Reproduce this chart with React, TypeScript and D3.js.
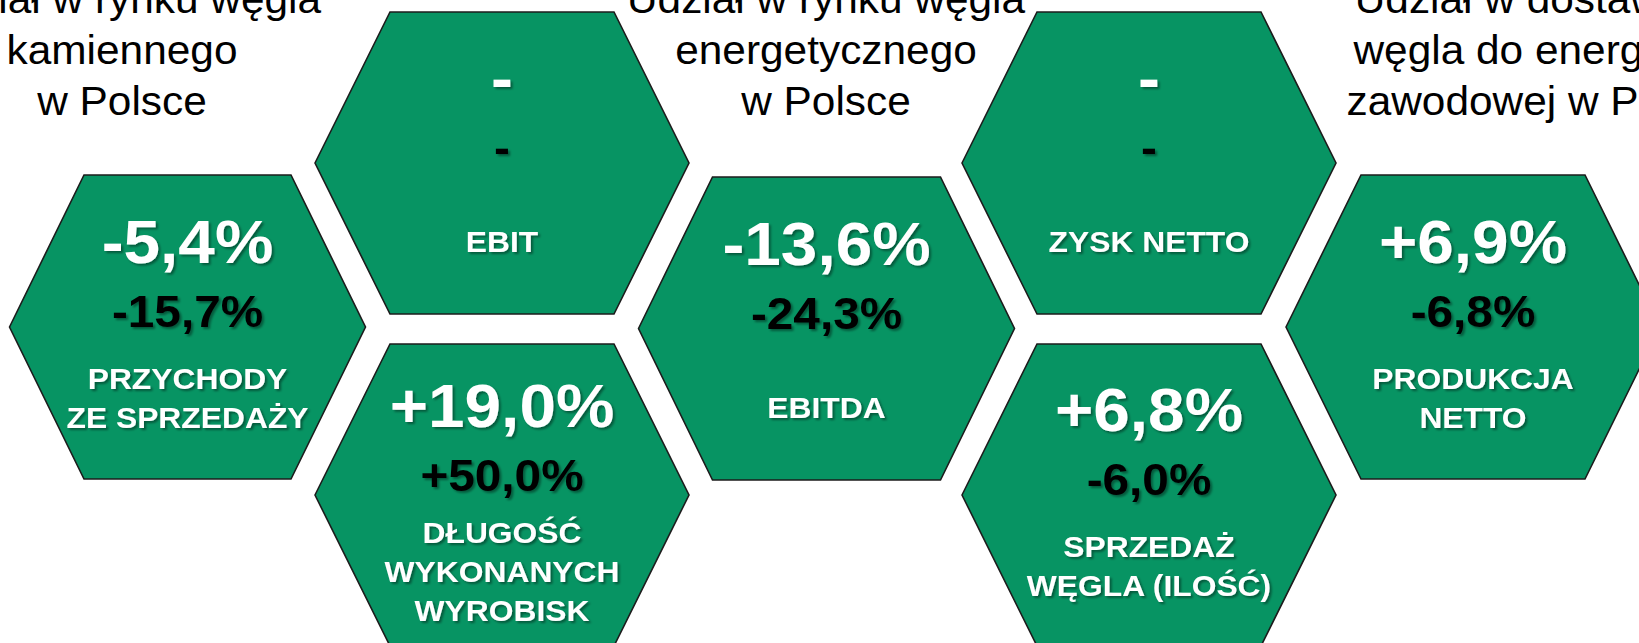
import React from "react";
import * as d3 from "d3";

// data
const labels: string[][] = [
  ["PRZYCHODY", "ZE SPRZEDAŻY"],
  ["EBIT"],
  ["DŁUGOŚĆ", "WYKONANYCH", "WYROBISK"],
  ["EBITDA"],
  ["ZYSK NETTO"],
  ["SPRZEDAŻ", "WĘGLA (ILOŚĆ)"],
  ["PRODUKCJA", "NETTO"],
];
const mainValues = ["-5,4%", "-", "+19,0%", "-13,6%", "-", "+6,8%", "+6,9%"];
const subValues = ["-15,7%", "-", "+50,0%", "-24,3%", "-", "-6,0%", "-6,8%"];

const titles: string[][] = [
  ["Udział w rynku węgla", "kamiennego", "w Polsce"],
  ["Udział w rynku węgla", "energetycznego", "w Polsce"],
  ["Udział w dostawach", "węgla do energetyki", "zawodowej w Polsce"],
];

// layout (not data): hex centres and half sizes
const hexLayout = [
  { cx: 187.5, cy: 327, w: 178, t: 103.5, h: 152 },
  { cx: 502, cy: 163, w: 187, t: 112, h: 151 },
  { cx: 502, cy: 495, w: 187, t: 112, h: 151 },
  { cx: 826.5, cy: 328.5, w: 188, t: 114, h: 151.5 },
  { cx: 1149, cy: 163, w: 187, t: 112, h: 151 },
  { cx: 1149, cy: 495, w: 187, t: 112, h: 151 },
  { cx: 1473, cy: 327, w: 187, t: 112, h: 152 },
];
const titleX = [122, 826, 1542];

const WIDTH = 1639;
const HEIGHT = 643;
const GREEN = "#079463";
const FONT = "'Liberation Sans', Arial, sans-serif";
const SX = 1.06; // text in the source is a bit wider than tall

const hexPath = d3.line<[number, number]>().curve(d3.curveLinearClosed);

function hexPoints(l: { cx: number; cy: number; w: number; t: number; h: number }): [number, number][] {
  return [
    [l.cx - l.w, l.cy],
    [l.cx - l.t, l.cy - l.h],
    [l.cx + l.t, l.cy - l.h],
    [l.cx + l.w, l.cy],
    [l.cx + l.t, l.cy + l.h],
    [l.cx - l.t, l.cy + l.h],
  ];
}

// vertical offsets from the hex centre, depending on label line count
function offsets(n: number) {
  if (n === 1) return { big: -64, sub: 0, label: 89, step: 0 };
  if (n === 2) return { big: -64, sub: 0, label: 62, step: 38.5 };
  return { big: -68, sub: -4, label: 48, step: 39 };
}

function Txt({ x, y, size, fill, weight, children, shadow }: any) {
  return (
    <text
      transform={`translate(${x},${y}) scale(${SX},1)`}
      textAnchor="middle"
      fontFamily={FONT}
      fontSize={size}
      fontWeight={weight}
      fill={fill}
      filter={shadow ? "url(#shadow)" : undefined}
    >
      {children}
    </text>
  );
}

export default function App() {
  return (
    <svg
      width={WIDTH}
      height={HEIGHT}
      style={{ position: "absolute", left: 0, top: 0, background: "#fff" }}
    >
      <defs>
        <filter id="shadow" x="-20%" y="-40%" width="140%" height="180%">
          <feDropShadow dx="2" dy="2" stdDeviation="1.2" floodColor="#000" floodOpacity="0.4" />
        </filter>
      </defs>

      {titles.map((lines, i) =>
        lines.map((line, j) => (
          <Txt key={`t${i}-${j}`} x={titleX[i]} y={13 + j * 51} size={40} fill="#000" weight="normal">
            {line}
          </Txt>
        ))
      )}

      {hexLayout.map((l, i) => {
        const o = offsets(labels[i].length);
        return (
          <g key={i}>
            <path d={hexPath(hexPoints(l)) || ""} fill={GREEN} stroke="#1c1c1c" strokeWidth={1.6} />
            <Txt x={l.cx} y={l.cy + o.big} size={62} fill="#fff" weight="bold" shadow>
              {mainValues[i]}
            </Txt>
            <Txt x={l.cx} y={l.cy + o.sub} size={45} fill="#000" weight="bold" shadow>
              {subValues[i]}
            </Txt>
            {labels[i].map((s, j) => (
              <Txt key={j} x={l.cx} y={l.cy + o.label + j * o.step} size={30} fill="#fff" weight="bold" shadow>
                {s}
              </Txt>
            ))}
          </g>
        );
      })}
    </svg>
  );
}
